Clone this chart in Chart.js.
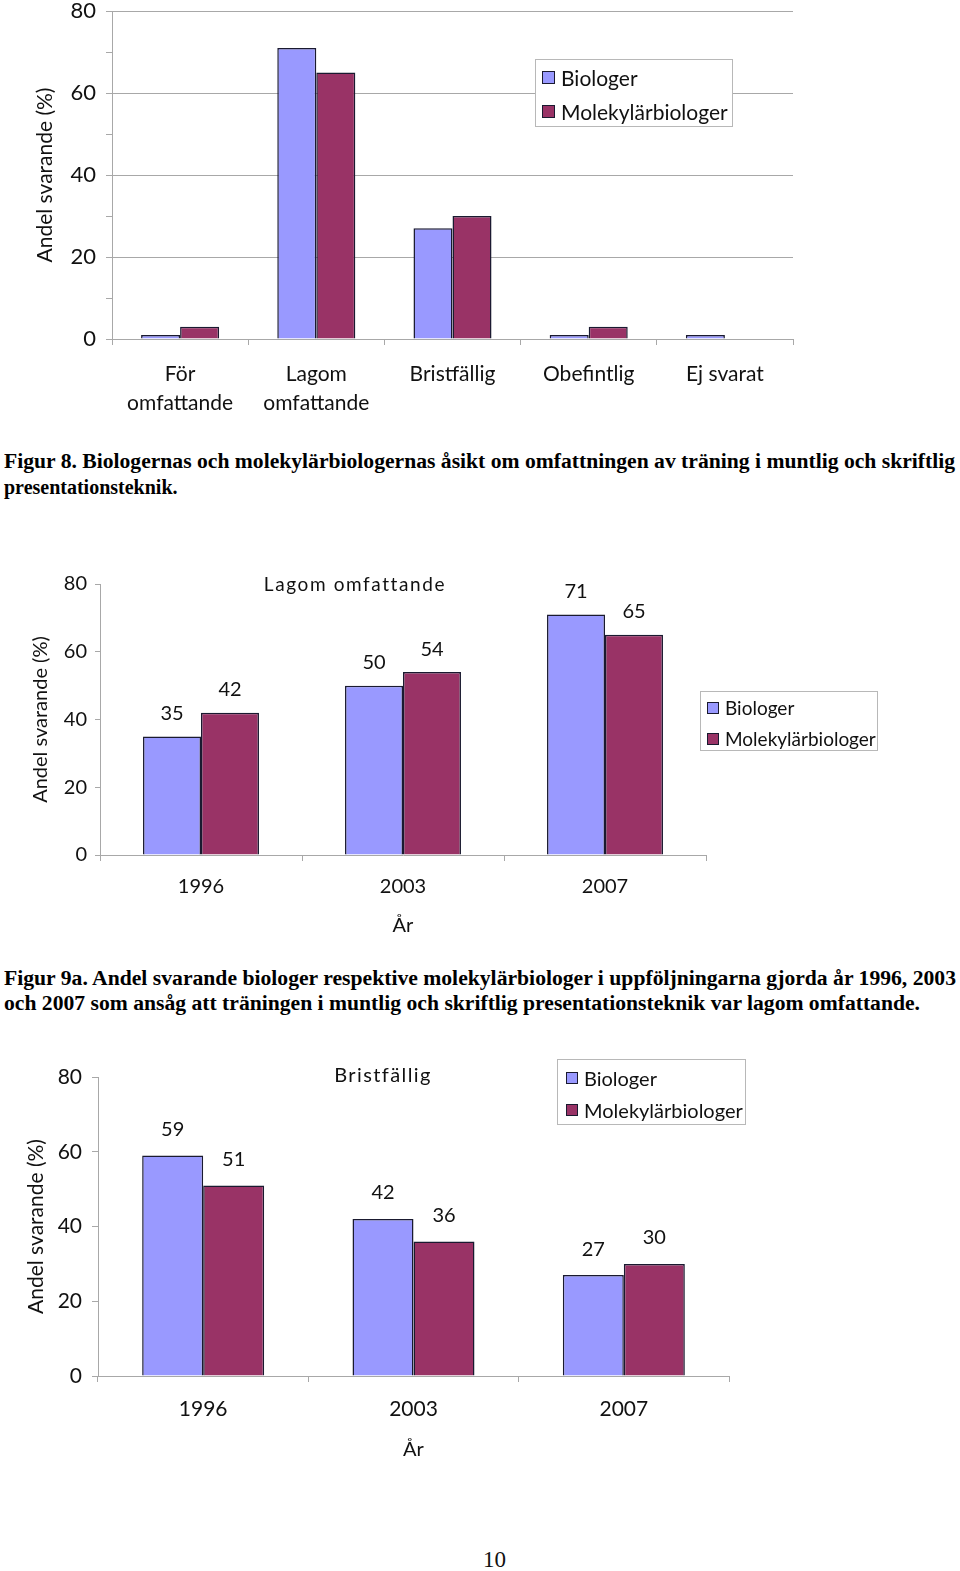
<!DOCTYPE html>
<html lang="sv">
<head>
<meta charset="UTF-8">
<title>Figur 8 och 9a</title>
<script src="https://cdn.jsdelivr.net/npm/chart.js"></script>
<style>
  body { margin: 0; background: #fff; }
  #sida { position: relative; width: 960px; height: 1571px; overflow: hidden; font-family: Lato, "Open Sans", sans-serif; color: #111; }
  canvas { position: absolute; left: 0; }
  .rad { position: absolute; white-space: nowrap; transform-origin: 0 50%; }
  .fig { font-family: "Liberation Serif", "Times New Roman", serif; font-weight: bold; font-size: 20px; line-height: 20px; color: #000; }
  .legend { position: absolute; border: 1px solid #b8b8b8; background: #fff; box-sizing: border-box; }
  .legend .post { display: flex; align-items: center; white-space: nowrap; position: relative; }
  .legend .ruta { display: inline-block; flex-shrink: 0; box-sizing: border-box; border: 1.5px solid #1a1a30; }
  .rubrik { position: absolute; white-space: nowrap; line-height: 1; transform: translate(-50%, -50%); }
</style>
</head>
<body>
<div id="sida">
  <canvas id="fig8" width="960" height="440" style="top:-20px"></canvas>
  <canvas id="fig9a" width="960" height="400" style="top:550px"></canvas>
  <canvas id="fig9b" width="960" height="430" style="top:1040px"></canvas>

  <div class="rad fig" data-w="951" style="left:4px; top:451px">Figur 8. Biologernas och molekylärbiologernas åsikt om omfattningen av träning i muntlig och skriftlig</div>
  <div class="rad fig" style="left:4px; top:477px">presentationsteknik.</div>

  <div class="rad fig" data-w="952" style="left:4px; top:968px">Figur 9a. Andel svarande biologer respektive molekylärbiologer i uppföljningarna gjorda år 1996, 2003</div>
  <div class="rad fig" data-w="916" style="left:4px; top:993px">och 2007 som ansåg att träningen i muntlig och skriftlig presentationsteknik var lagom omfattande.</div>

  <div class="rubrik" style="left:355px; top:583px; font-size:19px; letter-spacing:1.6px">Lagom omfattande</div>
  <div class="rubrik" style="left:383px; top:1074px; font-size:20px; letter-spacing:1.4px">Bristfällig</div>

  <div class="rad" style="left:483px; top:1548px; font-family:'Liberation Serif', serif; font-size:23px; line-height:23px">10</div>
</div>

<script>
// data
const serier = ["Biologer", "Molekylärbiologer"];
const seriefarger = ["#9999FF", "#993366"];

const fig8Kategorier = [["För", "omfattande"], ["Lagom", "omfattande"], "Bristfällig", "Obefintlig", "Ej svarat"];
const fig8Biologer = [1, 71, 27, 1, 1];
const fig8Molekylar = [3, 65, 30, 3, 0];

const ar = ["1996", "2003", "2007"];
const lagomBiologer = [35, 50, 71];
const lagomMolekylar = [42, 54, 65];
const bristBiologer = [59, 42, 27];
const bristMolekylar = [51, 36, 30];

const yEtiketter = [0, 20, 40, 60, 80];

const GRA = "#a8a8a8";
const TEXT = "#111";
const FONT = "Lato, 'Open Sans', sans-serif";

// skriver värdena ovanför staplarna
const stapelVarden = {
    id: "stapelVarden",
    afterDatasetsDraw(chart, args, opts) {
        if (!opts.visa) return;
        const ctx = chart.ctx;
        ctx.save();
        ctx.font = opts.storlek + "px " + FONT;
        ctx.fillStyle = TEXT;
        ctx.textAlign = "center";
        ctx.textBaseline = "middle";
        chart.data.datasets.forEach((ds, i) => {
            chart.getDatasetMeta(i).data.forEach((bar, j) => {
                ctx.fillText(ds.data[j], bar.x, bar.y - opts.avstand);
            });
        });
        ctx.restore();
    }
};

function datamangder(biologer, molekylar, kategoriAndel) {
    return [biologer, molekylar].map((v, i) => ({
        label: serier[i],
        data: v,
        backgroundColor: seriefarger[i],
        borderColor: "#1a1a30",
        borderWidth: 1.5,
        barPercentage: 1,
        categoryPercentage: kategoriAndel
    }));
}

function stapeldiagram(id, etiketter, biologer, molekylar, o) {
    const canvas = document.getElementById(id);
    new Chart(canvas.getContext("2d"), {
        type: "bar",
        data: { labels: etiketter, datasets: datamangder(biologer, molekylar, o.kategoriAndel) },
        options: {
            responsive: false,
            animation: false,
            events: [],
            layout: { padding: { left: 0, top: o.top, right: o.hoger, bottom: 0 } },
            plugins: {
                legend: { display: false },
                tooltip: { enabled: false },
                stapelVarden: { visa: o.varden, storlek: 20, avstand: o.vardeAvstand || 0 }
            },
            scales: {
                x: {
                    afterFit: s => { s.height = o.xHojd; },
                    grid: { display: true, drawOnChartArea: false, offset: true, tickLength: 6, color: GRA },
                    border: { color: GRA, width: 1 },
                    ticks: {
                        color: TEXT, maxRotation: 0, autoSkip: false, padding: o.xPad,
                        font: { family: FONT, size: o.xFont, lineHeight: o.xLinje || 1.2 }
                    },
                    title: o.xTitel ? {
                        display: true, text: "År", color: TEXT,
                        font: { family: FONT, size: 20 }, padding: { top: 0, bottom: o.xTitelPad }
                    } : { display: false }
                },
                y: {
                    min: 0, max: 80,
                    afterFit: s => { s.width = o.yBredd; },
                    ticks: {
                        stepSize: o.steg, color: TEXT, padding: o.yPad,
                        font: { family: FONT, size: o.yFont, lineHeight: 1 },
                        callback: v => yEtiketter.includes(v) ? v : ""
                    },
                    grid: {
                        color: c => (o.rutnat && c.tick && c.tick.value > 0 && c.tick.value % 20 === 0) ? GRA : "rgba(0,0,0,0)",
                        tickColor: GRA,
                        tickLength: o.tickLangd
                    },
                    border: { color: GRA, width: 1 },
                    title: {
                        display: true, text: "Andel svarande (%)", color: TEXT,
                        font: { family: FONT, size: o.yTitelFont }, padding: { top: o.yTitelPad, bottom: 0 }
                    }
                }
            }
        },
        plugins: [stapelVarden]
    });
}

function legend(box, radHojd, forskjut, padVanster, fontStorlek, ruta) {
    const el = document.createElement("div");
    el.className = "legend";
    el.style.left = box[0] + "px";
    el.style.top = box[1] + "px";
    el.style.width = box[2] + "px";
    el.style.height = box[3] + "px";
    el.style.paddingLeft = padVanster + "px";
    serier.forEach((namn, i) => {
        const post = document.createElement("div");
        post.className = "post";
        post.style.height = radHojd + "px";
        post.style.top = forskjut + "px";
        post.style.fontSize = fontStorlek + "px";
        const r = document.createElement("span");
        r.className = "ruta";
        r.style.width = ruta + "px";
        r.style.height = ruta + "px";
        r.style.background = seriefarger[i];
        r.style.marginRight = "6px";
        post.appendChild(r);
        post.appendChild(document.createTextNode(namn));
        el.appendChild(post);
    });
    document.getElementById("sida").appendChild(el);
}

stapeldiagram("fig8", fig8Kategorier, fig8Biologer, fig8Molekylar, {
    kategoriAndel: 0.573, top: 31, hoger: 167, xHojd: 81, yBredd: 112,
    xFont: 21, xLinje: 1.42, xPad: 14, yFont: 22, yPad: 10, tickLangd: 6,
    steg: 10, rutnat: true, yTitelFont: 21, yTitelPad: 33, varden: false
});

stapeldiagram("fig9a", ar, lagomBiologer, lagomMolekylar, {
    kategoriAndel: 0.574, top: 34, hoger: 254, xHojd: 95, yBredd: 100,
    xFont: 20, xPad: 14, yFont: 20, yPad: 8, tickLangd: 5,
    steg: 20, rutnat: false, yTitelFont: 20, yTitelPad: 29,
    xTitel: true, xTitelPad: 12, varden: true, vardeAvstand: 23
});

stapeldiagram("fig9b", ar, bristBiologer, bristMolekylar, {
    kategoriAndel: 0.58, top: 37, hoger: 231, xHojd: 94, yBredd: 98,
    xFont: 21, xPad: 15, yFont: 21, yPad: 10, tickLangd: 6,
    steg: 20, rutnat: false, yTitelFont: 21, yTitelPad: 24,
    xTitel: true, xTitelPad: 8, varden: true, vardeAvstand: 26
});

legend([535, 59, 198, 68], 34, 0, 6, 21, 13);
legend([700, 691, 178, 60], 31, 0, 6, 19, 12);
legend([557, 1059, 189, 66], 32, 2, 8, 20, 12);

// bildtexterna är hoptryckta i förlagan
document.querySelectorAll(".fig[data-w]").forEach(el => {
    const w = el.getBoundingClientRect().width;
    el.style.transform = "scaleX(" + (parseFloat(el.dataset.w) / w) + ")";
});
</script>
</body>
</html>
